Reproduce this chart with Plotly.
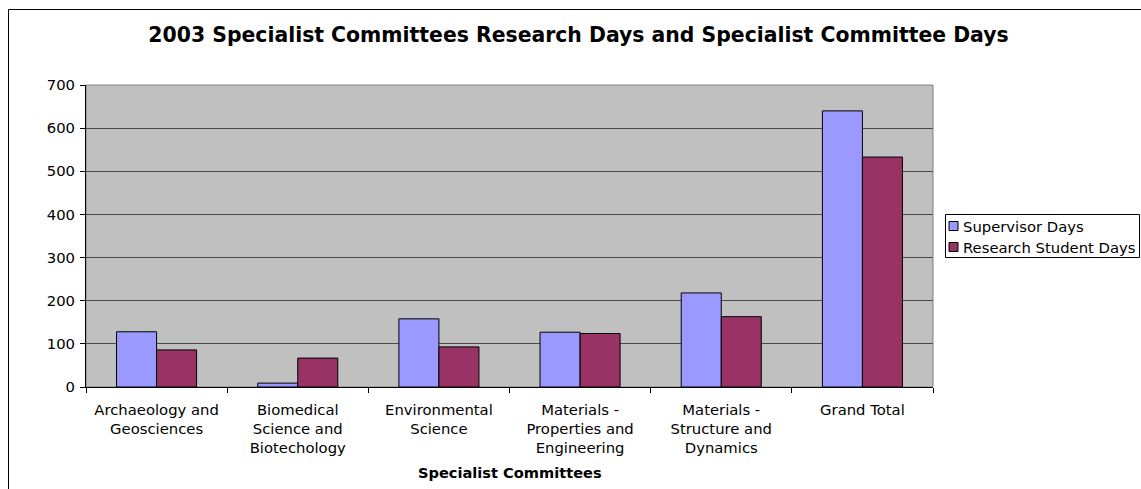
import plotly.graph_objects as go

# Committee categories and the two day counts per committee
categories = [
    "Archaeology and<br>Geosciences",
    "Biomedical<br>Science and<br>Biotechology",
    "Environmental<br>Science",
    "Materials -<br>Properties and<br>Engineering",
    "Materials -<br>Structure and<br>Dynamics",
    "Grand Total",
]
series_names = ["Supervisor Days", "Research Student Days"]
supervisor_days = [128, 9, 158, 127, 218, 640]
research_student_days = [86, 67, 93, 124, 163, 533]
series_colors = ["#9999FF", "#993366"]

y_ticks = [0, 100, 200, 300, 400, 500, 600, 700]

W, H = 1141, 489
ML, MR, MT, MB = 86, 208, 85, 102
PW, PH = W - ML - MR, H - MT - MB

FONT = "DejaVu Sans"
FS = 14.8


def fx(p):
    """pixel x -> paper x"""
    return (p - ML) / PW


def fy(p):
    """pixel y -> paper y"""
    return (H - MB - p) / PH


fig = go.Figure()
for name, vals, col in zip(series_names, [supervisor_days, research_student_days], series_colors):
    fig.add_trace(go.Bar(
        x=categories, y=vals, name=name,
        marker=dict(color=col, line=dict(color="black", width=1)),
        showlegend=False,
    ))

shapes = [
    # outer chart frame
    dict(type="rect", xref="paper", yref="paper",
         x0=fx(8.5), x1=fx(1160), y0=fy(520), y1=fy(9.5),
         line=dict(color="black", width=1), fillcolor="rgba(0,0,0,0)", layer="below"),
    # plot-area frame (top/right edges)
    dict(type="rect", xref="paper", yref="paper", x0=0, x1=1, y0=0, y1=1,
         line=dict(color="#808080", width=1), fillcolor="rgba(0,0,0,0)", layer="below"),
    # legend box
    dict(type="rect", xref="paper", yref="paper",
         x0=fx(945.5), x1=fx(1139.5), y0=fy(257.5), y1=fy(214.5),
         line=dict(color="black", width=1), fillcolor="white", layer="above"),
]
annotations = [
    dict(text="<b>Specialist Committees</b>", xref="paper", yref="paper",
         x=0.5, y=fy(472), xanchor="center", yanchor="middle", showarrow=False,
         font=dict(family=FONT, size=14.6, color="black")),
]
legend_rows = [226, 247]
for name, col, yc in zip(series_names, series_colors, legend_rows):
    shapes.append(dict(type="rect", xref="paper", yref="paper",
                       x0=fx(949), x1=fx(958), y0=fy(yc + 4.5), y1=fy(yc - 4.5),
                       line=dict(color="black", width=1), fillcolor=col, layer="above"))
    annotations.append(dict(text=name, xref="paper", yref="paper",
                            x=fx(961), y=fy(yc), xanchor="left", yanchor="middle",
                            showarrow=False, font=dict(family=FONT, size=FS, color="black")))

fig.update_layout(
    width=W, height=H,
    margin=dict(l=ML, r=MR, t=MT, b=MB, autoexpand=False),
    paper_bgcolor="white",
    plot_bgcolor="#C0C0C0",
    barmode="group",
    bargap=0.433,
    bargroupgap=0,
    title=dict(text="<b>2003 Specialist Committees Research Days and Specialist Committee Days</b>",
               x=578.5 / W, xanchor="center", xref="container",
               y=1 - 35 / H, yanchor="middle", yref="container",
               font=dict(family=FONT, size=20.4, color="black")),
    font=dict(family=FONT, size=FS, color="black"),
    shapes=shapes,
    annotations=annotations,
    xaxis=dict(
        showline=True, linecolor="black", linewidth=1,
        ticks="outside", tickson="boundaries", ticklen=5, tickcolor="black",
        showgrid=False, tickangle=0, ticklabelstandoff=9,
        tickfont=dict(family=FONT, size=FS, color="black"),
    ),
    yaxis=dict(
        range=[0, 700], tickvals=y_ticks,
        showline=True, linecolor="black", linewidth=1,
        ticks="outside", ticklen=5, tickcolor="black",
        showgrid=True, gridcolor="#4a4a4a", gridwidth=1.3,
        zeroline=False, ticklabelstandoff=2,
        tickfont=dict(family=FONT, size=FS, color="black"),
    ),
)

fig.write_html("out.html")
